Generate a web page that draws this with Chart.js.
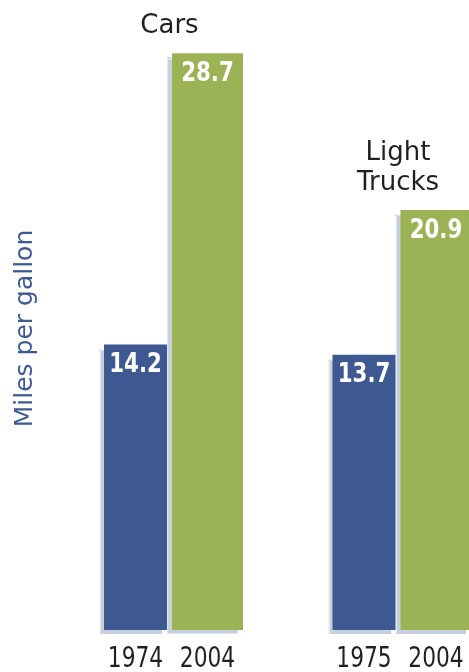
<!DOCTYPE html>
<html>
<head>
<meta charset="utf-8">
<title>Miles per gallon</title>
<script src="https://cdn.jsdelivr.net/npm/chart.js@4.4.0/dist/chart.umd.min.js"></script>
<style>
  html, body { margin: 0; padding: 0; background: #fff; }
  #wrap { width: 469px; height: 672px; position: relative; }
</style>
</head>
<body>
<div id="wrap"><canvas id="mpgChart"></canvas></div>
<script>
const categories = ['Cars', ['Light', 'Trucks']];
const earlyYears = ['1974', '1975'];
const lateYears = ['2004', '2004'];
const earlyMpg = [14.2, 13.7];
const lateMpg = [28.7, 20.9];

const BLUE = '#3e5891';
const GREEN = '#9bb355';
const SHADOW = '#c6cfdc';
const INK = '#231f20';
const FONT = "'DejaVu Sans', sans-serif";

// pale offset shadow down-left of every bar
const barShadow = {
    id: 'barShadow',
    beforeDatasetsDraw(chart) {
        const ctx = chart.ctx;
        ctx.save();
        ctx.shadowColor = SHADOW;
        ctx.shadowOffsetX = -5;
        ctx.shadowOffsetY = 4;
        ctx.shadowBlur = 1;
    },
    afterDatasetsDraw(chart) {
        chart.ctx.restore();
    }
};

// the print font is condensed, so squeeze the text horizontally
function drawNarrow(ctx, text, x, y, squeeze) {
    ctx.save();
    ctx.translate(x, y);
    ctx.scale(squeeze, 1);
    ctx.fillText(text, 0, 0);
    ctx.restore();
}

const barLabels = {
    id: 'barLabels',
    afterDatasetsDraw(chart) {
        const ctx = chart.ctx;
        const xScale = chart.scales.x;
        ctx.save();
        ctx.textAlign = 'center';
        ctx.textBaseline = 'middle';

        chart.data.datasets.forEach((ds, di) => {
            chart.getDatasetMeta(di).data.forEach((bar, i) => {
                // value at the top, inside the bar
                ctx.fillStyle = '#ffffff';
                ctx.font = 'bold 26px ' + FONT;
                drawNarrow(ctx, ds.data[i].toFixed(1), bar.x, bar.y + 21, 0.82);
                // model year under the bar
                ctx.fillStyle = INK;
                ctx.font = '29px ' + FONT;
                drawNarrow(ctx, ds.years[i], bar.x, bar.base + 29, 0.75);
            });
        });

        // vehicle class above the taller bar of each pair
        ctx.fillStyle = INK;
        ctx.font = '26px ' + FONT;
        ctx.textBaseline = 'alphabetic';
        categories.forEach((cat, i) => {
            const lines = Array.isArray(cat) ? cat : [cat];
            const top = Math.min(...chart.data.datasets.map((ds, di) => chart.getDatasetMeta(di).data[i].y));
            const x = xScale.getPixelForValue(i) - 2;
            lines.forEach((line, li) => {
                ctx.fillText(line, x, top - 20 - (lines.length - 1 - li) * 30);
            });
        });
        ctx.restore();
    }
};

new Chart(document.getElementById('mpgChart'), {
    type: 'bar',
    data: {
        labels: categories,
        datasets: [
            {
                label: 'Earlier',
                data: earlyMpg,
                years: earlyYears,
                backgroundColor: BLUE,
                maxBarThickness: 63,
                clip: false
            },
            {
                label: '2004',
                data: lateMpg,
                years: lateYears,
                backgroundColor: GREEN,
                maxBarThickness: 71,
                clip: false
            }
        ]
    },
    options: {
        responsive: true,
        maintainAspectRatio: false,
        animation: false,
        layout: { padding: { top: 27, bottom: 42, left: 10, right: 69 } },
        plugins: {
            legend: { display: false },
            tooltip: { enabled: false }
        },
        datasets: {
            bar: { categoryPercentage: 0.63, barPercentage: 1 }
        },
        scales: {
            x: {
                display: false,
                offset: false
            },
            y: {
                min: 0,
                max: 30,
                ticks: { display: false },
                grid: { display: false },
                border: { display: false },
                title: {
                    display: true,
                    text: 'Miles per gallon',
                    color: '#3e5a95',
                    font: { family: 'DejaVu Sans', size: 25 },
                    padding: 0
                },
                afterFit(scale) { scale.width = 161.5; }
            }
        }
    },
    plugins: [barShadow, barLabels]
});
</script>
</body>
</html>
